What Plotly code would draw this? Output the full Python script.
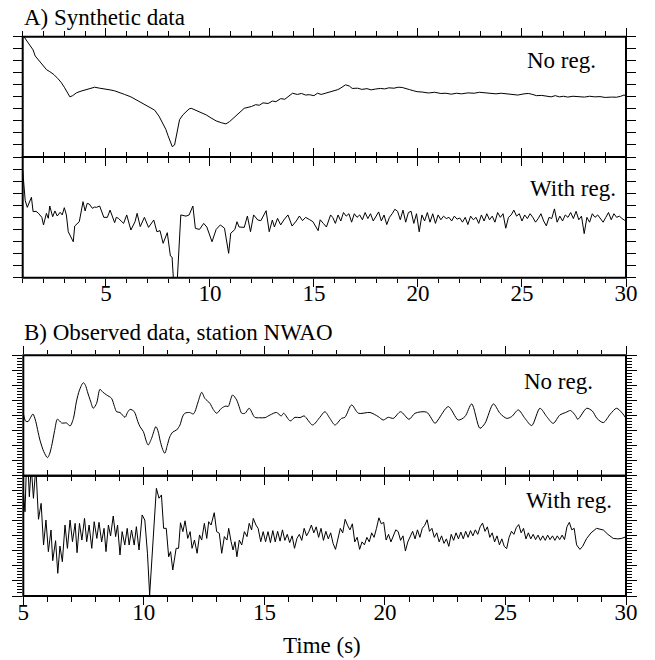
import plotly.graph_objects as go

# ---------------- data ----------------
# A) Synthetic data, No reg.
A1_T = [1.05, 1.1, 1.3, 1.5, 1.6, 1.8, 2.0, 2.15, 2.3, 2.5, 2.7, 2.85, 3.0, 3.15, 3.27, 3.4, 3.6, 3.85,
        4.07, 4.3, 4.46, 4.7, 5.0, 5.2, 5.42, 5.65, 5.9, 6.2, 6.46, 6.7, 6.94, 7.15, 7.34, 7.55, 7.74,
        7.88, 7.98, 8.1, 8.19, 8.3, 8.42, 8.54, 8.7, 8.86, 9.0, 9.1, 9.34, 9.6, 9.82, 10.05, 10.3, 10.55,
        10.77, 10.95, 11.1, 11.4, 11.65,
        12.0, 12.2, 12.37, 12.55, 12.8, 13.0, 13.17, 13.4, 13.6, 13.8, 13.97, 14.2, 14.4, 14.6, 14.77,
        15.0, 15.17, 15.35, 15.5, 15.75, 15.96, 16.15, 16.3, 16.52, 16.7, 16.84, 17.1, 17.3, 17.55,
        17.75, 17.96, 18.2, 18.4, 18.6, 18.85, 19.05, 19.24, 19.45, 19.6, 19.8, 19.96, 20.2, 20.5, 20.8,
        21.1, 21.35, 21.6, 21.85, 22.1, 22.4, 22.7, 22.95, 23.2, 23.5, 23.75, 24.0, 24.3, 24.55, 24.8,
        25.1, 25.3, 25.47, 25.7, 25.95, 26.2, 26.4, 26.6, 26.8, 27.0, 27.2, 27.45, 27.7, 28.0, 28.25,
        28.5, 28.75, 29.0, 29.3, 29.55, 29.75, 29.9, 30.0]
A1_V = [10.0, 9.9, 9.4, 8.9, 8.4, 7.95, 7.5, 7.25, 7.1, 6.85, 6.5, 6.2, 5.8, 5.35, 5.0, 5.1, 5.35, 5.5,
        5.6, 5.7, 5.8, 5.72, 5.6, 5.58, 5.5, 5.38, 5.2, 5.0, 4.75, 4.55, 4.3, 4.12, 3.9, 3.4, 2.8,
        2.3, 1.8, 1.2, 0.86, 1.0, 2.0, 3.1, 3.5, 3.76, 4.0, 4.05, 3.85, 3.7, 3.5, 3.25, 3.0, 2.85,
        2.75, 2.95, 3.2, 3.65, 4.05,
        4.2, 4.35, 4.3, 4.5, 4.45, 4.65, 4.6, 4.85, 4.8, 5.05, 5.3, 5.2, 5.28, 5.15, 5.18,
        5.1, 5.3, 5.2, 5.28, 5.35, 5.5, 5.6, 5.75, 6.0, 5.9, 5.7, 5.72, 5.62, 5.68,
        5.58, 5.65, 5.7, 5.66, 5.75, 5.72, 5.8, 5.78, 5.7, 5.6, 5.5, 5.43, 5.4, 5.32, 5.38,
        5.28, 5.3, 5.22, 5.3, 5.25, 5.33, 5.3, 5.38, 5.32, 5.3, 5.25, 5.3, 5.22, 5.2, 5.15,
        5.25, 5.28, 5.22, 5.1, 5.12, 5.05, 5.0, 5.1, 5.0, 5.05, 4.98, 5.05, 5.0, 4.98, 5.05,
        5.0, 5.02, 4.95, 4.98, 4.97, 5.05, 5.15, 5.1]

# A) Synthetic data, With reg. (irregular head + sampled tail)
A2_T_HEAD = [1.0, 1.05, 1.12, 1.22, 1.32, 1.42, 1.5, 1.64, 1.75, 1.83, 1.92, 2.0, 2.14, 2.23, 2.3, 2.44,
             2.55, 2.66, 2.8, 2.9, 3.0, 3.1, 3.19, 3.43, 3.5, 3.72, 3.9, 4.0, 4.1, 4.2, 4.35, 4.45, 4.55,
             4.7, 4.9, 5.07, 5.2, 5.42, 5.5, 5.6, 5.72, 5.85, 6.0, 6.2, 6.4, 6.5, 6.65, 6.85, 7.05, 7.18,
             7.3, 7.45, 7.6, 7.75, 7.95, 8.1, 8.18, 8.26, 8.42, 8.6, 8.85, 9.0, 9.18, 9.3, 9.5, 9.7, 9.85,
             10.1, 10.3, 10.5, 10.7, 10.9, 11.0, 11.2, 11.3, 11.4, 11.65, 11.8, 11.95, 12.1, 12.3, 12.45,
             12.7, 12.85, 13.0, 13.1, 13.25, 13.4, 13.55, 13.75, 13.95, 14.15, 14.3, 14.45, 14.6, 14.8,
             14.95, 15.2, 15.3, 15.45, 15.6, 15.8]
A2_V_HEAD = [8.9, 7.6, 6.4, 5.83, 6.3, 6.66, 5.47, 5.5, 5.35, 5.2, 5.0, 4.37, 5.33, 4.92, 5.94, 5.05,
             5.53, 5.11, 5.42, 5.2, 5.8, 5.2, 3.81, 2.98, 4.28, 4.64, 6.3, 5.53, 6.16, 6.1, 5.75, 5.85, 5.83,
             5.94, 5.0, 5.0, 5.6, 4.56, 5.0, 4.92, 4.7, 4.5, 5.2, 3.95, 4.64, 5.33, 4.23, 5.0, 4.17, 4.5,
             4.78, 3.81, 3.9, 2.85, 3.73, 1.8, 1.7, -0.5, -0.5, 5.2, 5.1, 5.2, 5.94, 4.09, 4.0, 4.5, 4.2,
             2.98, 4.0, 4.37, 4.1, 2.02, 3.68, 4.0, 4.64, 4.2, 4.17, 5.11, 3.81, 5.2, 4.78, 4.73,
             5.55, 3.81, 4.78, 4.2, 4.92, 4.37, 4.78, 5.2, 4.28, 4.7, 5.11, 4.73, 5.0, 4.8,
             4.64, 3.9, 4.8, 4.5, 4.2, 5.2]
A2_TAIL_T0 = 15.9
A2_TAIL_DT = 0.13
A2_V_TAIL = [5.0, 4.5, 5.2, 4.7, 5.4, 5.1, 5.3, 4.6, 5.3, 5.0, 5.2, 4.8, 5.4, 4.9, 5.3, 4.7, 5.1, 5.45,
             4.7, 5.2, 4.4, 5.0, 5.3, 5.67, 5.5, 4.8, 5.6, 4.6, 5.4, 5.5, 4.5, 5.3, 3.8, 5.2, 4.7, 5.4,
             4.6, 5.3, 4.5, 5.2, 4.8, 5.1, 4.9, 5.0, 4.7, 5.1, 4.85, 4.95, 4.6, 5.0, 4.4, 5.1, 4.8, 5.0,
             4.5, 5.2, 4.7, 5.3, 4.8, 5.1, 4.6, 5.4, 5.0, 5.3, 4.1, 5.0, 5.2, 5.6, 5.1, 5.3, 4.7, 5.2,
             4.9, 5.3, 5.0, 4.6, 4.9, 5.3, 4.7, 4.3, 5.0, 4.9, 5.7, 4.6, 5.1, 4.7, 5.2, 5.0, 5.4, 4.9,
             5.5, 4.8, 5.1, 3.65, 5.0, 4.6, 5.3, 5.0, 5.2, 4.9, 4.6, 5.0, 5.4, 4.8, 5.3, 5.0, 5.1, 4.9,
             4.75, 4.7]

# B) Observed data, station NWAO, No reg.
B1_T = [5.0, 5.1, 5.2, 5.28, 5.4, 5.5, 5.69, 5.85, 6.0, 6.08, 6.17, 6.3, 6.41, 6.5, 6.59, 6.8, 6.94,
        7.08, 7.2, 7.33, 7.49, 7.58, 7.66, 7.8, 7.9, 8.04, 8.18, 8.3, 8.46, 8.66, 8.78, 8.87, 9.01,
        9.22, 9.32, 9.43, 9.6, 9.75, 9.84, 9.98, 10.1, 10.18, 10.32, 10.5, 10.6, 10.67, 10.78, 10.87,
        10.97, 11.08, 11.2, 11.36, 11.5, 11.6, 11.7, 11.9, 12.05, 12.12, 12.25, 12.4, 12.53, 12.74,
        12.88, 13.02, 13.22, 13.4, 13.5, 13.68, 13.85, 13.95, 14.06, 14.2, 14.37, 14.6, 14.8, 15.03,
        15.24, 15.5, 15.7, 15.8, 16.07, 16.27, 16.48, 16.65, 17.0, 17.3, 17.51, 17.72, 17.93, 18.2,
        18.34, 18.62, 18.9, 19.38, 19.72, 19.93, 20.14, 20.35, 20.65, 21.0, 21.25, 21.73, 22.08,
        22.2, 22.63, 23.04, 23.32, 23.6, 23.94, 24.15, 24.5, 24.77, 25.05, 25.26, 25.53, 25.81,
        26.09, 26.43, 26.71, 26.98, 27.26, 27.5, 27.7, 27.9, 28.0, 28.37, 28.6, 28.8, 29.06, 29.35,
        29.61, 29.85, 30.0]
B1_V = [4.15, 3.62, 3.6, 3.8, 4.1, 3.7, 2.37, 1.6, 1.2, 1.4, 1.93, 3.0, 3.75, 3.65, 3.5, 3.5, 3.3,
        3.81, 4.9, 5.69, 6.18, 6.0, 5.58, 4.9, 4.48, 4.81, 5.74, 5.55, 5.36, 5.14, 4.6, 4.25, 4.2,
        3.88, 4.2, 4.41, 4.26, 3.6, 3.26, 2.93, 2.3, 2.04, 2.48, 3.26, 2.9, 2.37, 1.75, 1.49,
        2.0, 2.6, 2.9, 3.04, 3.37, 3.9, 4.15, 4.2, 4.1, 4.26, 4.9, 5.54, 5.14, 4.81,
        4.4, 4.15, 4.48, 4.63, 4.6, 5.36, 5.03, 4.6, 4.15, 4.15, 4.48, 3.88, 3.85, 3.86,
        4.04, 4.2, 3.97, 4.15, 3.64, 3.88, 3.86, 3.97, 3.37, 3.88, 4.25, 3.8, 3.37, 3.81,
        3.88, 4.7, 4.15, 4.2, 3.93, 3.7, 3.88, 3.81, 4.25, 3.75, 4.15, 4.22, 3.48,
        3.7, 4.59, 3.7, 3.93, 4.77, 3.15, 3.48, 4.77, 4.15, 3.81, 3.93, 4.37, 3.81,
        3.33, 4.48, 3.93, 3.48, 4.04, 4.2, 4.33, 4.0, 3.75, 4.48, 4.3, 3.8, 3.53, 4.1,
        4.48, 4.15, 3.81]

# B) Observed data, station NWAO, With reg. (irregular head + sampled middle + smooth end)
B2_T_HEAD = [5.0, 5.07, 5.13, 5.2, 5.25, 5.33, 5.42, 5.52, 5.63, 5.74, 5.84, 5.94, 6.04, 6.15, 6.22,
             6.34, 6.43, 6.52, 6.62, 6.73, 6.83, 6.94, 7.04, 7.15, 7.23, 7.33, 7.43, 7.54, 7.63, 7.73,
             7.84, 7.94, 8.05, 8.14, 8.25, 8.35, 8.43, 8.53, 8.62, 8.73, 8.83, 8.91, 9.01, 9.1, 9.21,
             9.31, 9.39, 9.49, 9.6, 9.69, 9.8, 9.93, 10.04, 10.15, 10.24, 10.31, 10.41, 10.52, 10.63,
             10.73, 10.82, 10.93, 11.03, 11.11, 11.2, 11.34, 11.44, 11.52, 11.62, 11.71, 11.82, 11.92,
             12.0, 12.1, 12.21, 12.31, 12.4, 12.51, 12.61, 12.69, 12.79, 12.92, 13.02, 13.13, 13.23,
             13.34, 13.45, 13.52, 13.62, 13.7, 13.78, 13.86, 13.96, 14.06, 14.17, 14.28, 14.37, 14.47,
             14.54, 14.65, 14.74, 14.85, 14.95]
B2_V_HEAD = [7.05, 5.6, 8.6, 8.5, 6.6, 8.6, 6.5, 8.6, 5.1, 6.16, 3.39, 5.05, 2.95, 4.39, 2.35,
             3.68, 1.51, 3.32, 2.28, 4.72, 3.17, 5.05, 3.61, 4.83, 2.88, 4.83, 3.72, 5.16, 3.61, 4.72,
             3.17, 4.94, 3.83, 4.9, 3.6, 4.5, 2.95, 4.72, 3.99, 5.32, 3.95, 4.72, 2.73, 4.28, 3.39,
             4.5, 3.39, 4.39, 3.39, 4.61, 3.06, 5.39, 5.05, 2.84, 0.07, 1.73, 4.39, 7.16, 6.5,
             6.72, 4.5, 4.5, 2.61, 2.95, 1.73, 3.17, 3.17, 4.87, 4.28, 5.0, 3.83, 4.28,
             3.17, 3.72, 2.84, 4.06, 3.72, 4.83, 3.83, 4.94, 4.72, 5.54, 4.28, 4.17, 2.84,
             3.95, 3.72, 4.5, 3.61, 3.06, 3.61, 2.61, 3.72, 3.39, 4.28, 3.95, 4.83, 4.39,
             5.16, 4.72, 4.5, 3.61, 4.28]
B2_MID_T0 = 15.05
B2_MID_DT = 0.1
B2_V_MID = [3.61, 4.28, 3.55, 4.35, 3.6, 4.3, 3.65, 4.4, 3.7, 4.1,
            3.55, 4.0, 3.17, 3.83, 4.1, 3.7, 4.5, 4.0, 4.3, 4.72,
            4.2, 4.6, 3.9, 4.5, 3.7, 4.3, 3.8, 4.2, 3.5, 3.1,
            3.9, 4.5, 4.2, 5.1, 4.7, 4.4, 4.8, 3.6, 3.9, 3.1,
            3.6, 3.4, 3.9, 3.6, 4.2, 3.9, 4.5, 5.2, 4.8, 4.9,
            3.72, 4.1, 3.6, 4.0, 4.4, 4.28, 3.7, 4.0, 2.99, 3.6,
            3.9, 4.3, 3.8, 4.4, 3.9, 4.5, 4.7, 5.07, 4.3, 4.5,
            3.9, 4.2, 3.6, 4.0, 3.5, 3.8, 3.3, 4.1, 3.7, 4.2,
            3.8, 4.25, 3.8, 4.3, 3.9, 4.35, 4.0, 4.4, 4.1, 4.6,
            4.85, 4.3, 4.6, 3.9, 4.2, 3.6, 4.0, 3.4, 3.8, 3.3,
            3.15, 3.9, 4.3, 4.1, 4.55, 4.75, 4.2, 4.5, 3.8, 4.2,
            3.8, 4.1, 3.75, 4.05, 3.7, 4.0, 3.7, 4.05, 3.75, 4.0,
            3.7, 4.0, 3.75, 4.05, 3.75, 4.6, 4.9, 4.4, 4.5, 3.4]
B2_T_END = [28.09, 28.2, 28.37, 28.55, 28.78, 29.06, 29.25, 29.47, 29.65, 29.8, 30.0]
B2_V_END = [3.1, 3.3, 3.83, 4.2, 4.5, 4.39, 4.1, 3.83, 3.8, 3.82, 3.94]

X_TICK_STEP = 5
PANEL_LABELS = ["No reg.", "With reg.", "No reg.", "With reg."]
TITLE_A = "A) Synthetic data"
TITLE_B = "B) Observed data, station NWAO"
X_TITLE = "Time (s)"

# ---------------- assemble series ----------------
A2_T = A2_T_HEAD + [round(A2_TAIL_T0 + A2_TAIL_DT * i, 3) for i in range(len(A2_V_TAIL))]
A2_V = A2_V_HEAD + A2_V_TAIL
B2_T = B2_T_HEAD + [round(B2_MID_T0 + B2_MID_DT * i, 3) for i in range(len(B2_V_MID))] + B2_T_END
B2_V = B2_V_HEAD + B2_V_MID + B2_V_END

FONT = "Liberation Serif, Times New Roman, DejaVu Serif, serif"
W, H = 655, 660

fig = go.Figure()
line = dict(color="black", width=1)
fig.add_trace(go.Scatter(x=A1_T, y=A1_V, mode="lines", line=line, xaxis="x", yaxis="y"))
fig.add_trace(go.Scatter(x=A2_T, y=A2_V, mode="lines", line=line, xaxis="x2", yaxis="y2"))
fig.add_trace(go.Scatter(x=B1_T, y=B1_V, mode="lines",
                         line=dict(color="black", width=1, shape="spline", smoothing=0.8),
                         xaxis="x3", yaxis="y3"))
fig.add_trace(go.Scatter(x=B2_T, y=B2_V, mode="lines", line=line, xaxis="x4", yaxis="y4"))


def px_x(p):
    return p / W


def px_y(p):
    return 1 - p / H


def xax(rng, dom, anchor, labels):
    return dict(range=rng, domain=dom, anchor=anchor, showline=False, automargin=False,
                mirror="allticks", ticks="outside", ticklen=8, tickwidth=1, tickcolor="black",
                tick0=0, dtick=X_TICK_STEP, showticklabels=labels, ticklabelstandoff=-13,
                showgrid=False, zeroline=False,
                minor=dict(ticks="outside", dtick=1, ticklen=4.5, tickwidth=1, tickcolor="black",
                           showgrid=False),
                tickfont=dict(family=FONT, size=23, color="black"), fixedrange=True)


def yax(rng, dom, anchor, minor):
    d = dict(range=rng, domain=dom, anchor=anchor, showline=False, automargin=False,
             mirror="allticks", ticks="outside", ticklen=9 if not minor else 10, tickwidth=1,
             tickcolor="black", tick0=0, dtick=1, showticklabels=False, showgrid=False,
             zeroline=False, fixedrange=True)
    if minor:
        d["minor"] = dict(ticks="outside", dtick=0.2, ticklen=5, tickwidth=1, tickcolor="black",
                          showgrid=False)
    return d


domA = [px_x(22.7), px_x(626)]
domB = [px_x(23.3), px_x(626)]
fig.update_layout(
    template="none",
    width=W, height=H, margin=dict(l=0, r=0, t=0, b=0, pad=0, autoexpand=False),
    paper_bgcolor="white", plot_bgcolor="white", showlegend=False,
    font=dict(family=FONT, size=23, color="black"),
    xaxis=xax([1, 30], domA, "y", False),
    yaxis=yax([0, 10], [px_y(157), px_y(36.7)], "x", False),
    xaxis2=xax([1, 30], domA, "y2", True),
    yaxis2=yax([0, 10], [px_y(277.7), px_y(157)], "x2", False),
    xaxis3=xax([5, 30], domB, "y3", False),
    yaxis3=yax([0, 8], [px_y(475.7), px_y(355.3)], "x3", True),
    xaxis4=xax([5, 30], domB, "y4", True),
    yaxis4=yax([0, 8], [px_y(596), px_y(475.7)], "x4", True),
)

# panel frames (drawn as shapes so shared borders coincide)
shapes = []
for xs, ys in [("x", "y"), ("x2", "y2"), ("x3", "y3"), ("x4", "y4")]:
    shapes.append(dict(type="rect", xref=xs + " domain", yref=ys + " domain", x0=0, x1=1, y0=0, y1=1,
                       line=dict(color="black", width=2), fillcolor="rgba(0,0,0,0)", layer="above"))
fig.update_layout(shapes=shapes)


def ann(text, x, y, xanchor):
    return dict(text=text, x=px_x(x), y=px_y(y), xref="paper", yref="paper", xanchor=xanchor,
                yanchor="middle", showarrow=False, font=dict(family=FONT, size=23, color="black"))


fig.update_layout(annotations=[
    ann(TITLE_A, 21.5, 18, "left"),
    ann(PANEL_LABELS[0], 598, 61, "right"),
    ann(PANEL_LABELS[1], 618, 188, "right"),
    ann(TITLE_B, 21.5, 332, "left"),
    ann(PANEL_LABELS[2], 595, 381, "right"),
    ann(PANEL_LABELS[3], 614, 500, "right"),
    ann(X_TITLE, 322, 645, "center"),
])

fig.write_html("out.html", config={"displayModeBar": False},
               post_script="document.body.style.margin='0';document.body.style.overflow='hidden';")
